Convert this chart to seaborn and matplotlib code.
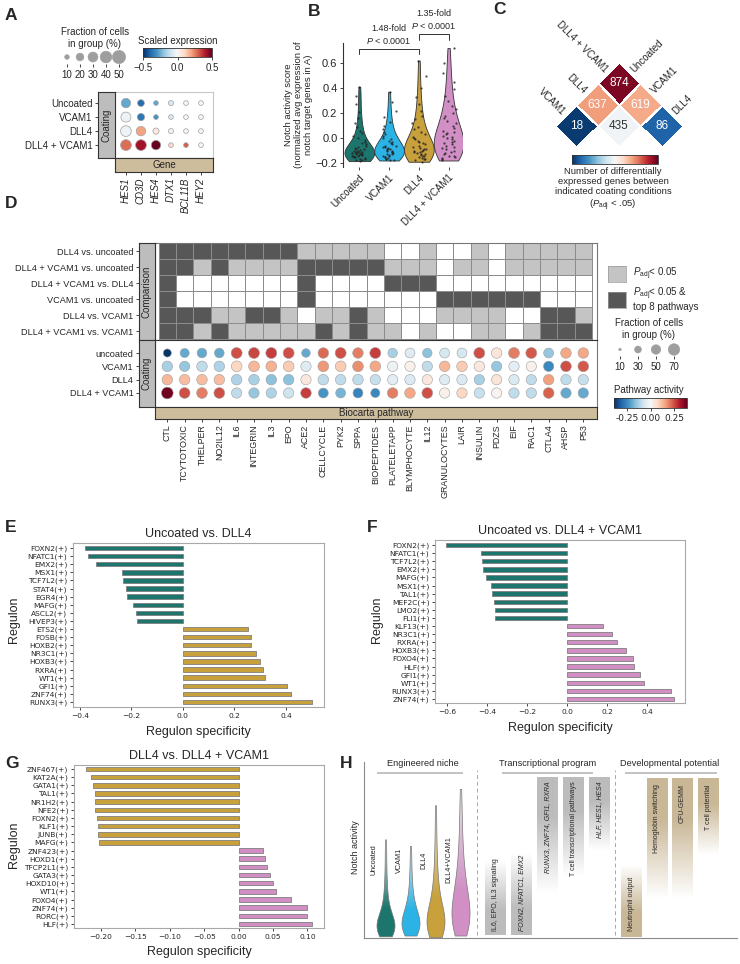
import numpy as np
import pandas as pd
import matplotlib
matplotlib.use('Agg')
import matplotlib.pyplot as plt
import seaborn as sns
from matplotlib.colors import ListedColormap, LinearSegmentedColormap, Normalize
from matplotlib.cm import ScalarMappable
from matplotlib.transforms import Affine2D

# ---------------- data ----------------
conditions = ['Uncoated', 'VCAM1', 'DLL4', 'DLL4 + VCAM1']
cond_colors = ['#1d766e', '#2cb3e6', '#c8a13c', '#d18fc5']

# A: notch target genes
genes_a = ['HES1', 'CD3D', 'HES4', 'DTX1', 'BCL11B', 'HEY2']
frac_a = [[27, 16, 10, 11, 5, 5],
          [30, 18, 7, 8, 5, 5],
          [34, 27, 14, 11, 5, 5],
          [34, 34, 27, 10, 6, 5]]
expr_a = [[-0.26, -0.38, -0.26, -0.08, 0.0, 0.0],
          [-0.03, -0.36, -0.30, -0.08, 0.0, 0.0],
          [-0.03, 0.20, 0.05, -0.02, 0.0, 0.0],
          [0.28, 0.42, 0.50, 0.10, 0.30, 0.0]]
size_legend_a = [10, 20, 30, 40, 50]

# B: notch activity score per cell
notch_uncoated = [-0.185, -0.18, -0.175, -0.17, -0.165, -0.16, -0.155, -0.15, -0.148, -0.145,
                  -0.14, -0.138, -0.135, -0.13, -0.128, -0.125, -0.122, -0.12, -0.118, -0.115,
                  -0.112, -0.11, -0.105, -0.1, -0.095, -0.09, -0.085, -0.08, -0.07, -0.06,
                  -0.05, -0.04, -0.03, -0.015, 0.0, 0.02, 0.04, 0.06, 0.09, 0.12,
                  0.16, 0.21, 0.27, 0.34, 0.41]
notch_vcam1 = [-0.18, -0.175, -0.17, -0.165, -0.16, -0.155, -0.15, -0.145, -0.14, -0.135,
               -0.13, -0.125, -0.12, -0.115, -0.11, -0.105, -0.1, -0.095, -0.09, -0.085,
               -0.08, -0.075, -0.07, -0.065, -0.06, -0.05, -0.04, -0.03, -0.02, -0.01,
               0.0, 0.015, 0.03, 0.05, 0.07, 0.1, 0.13, 0.17, 0.22, 0.29, 0.37]
notch_dll4 = [-0.19, -0.18, -0.17, -0.165, -0.16, -0.15, -0.145, -0.14, -0.135, -0.13,
              -0.125, -0.12, -0.115, -0.11, -0.105, -0.1, -0.095, -0.09, -0.085, -0.08,
              -0.07, -0.06, -0.05, -0.04, -0.03, -0.02, -0.01, 0.0, 0.01, 0.03,
              0.05, 0.07, 0.09, 0.12, 0.15, 0.18, 0.22, 0.27, 0.33, 0.4, 0.5, 0.62]
notch_dll4_vcam1 = [-0.18, -0.17, -0.16, -0.15, -0.145, -0.14, -0.13, -0.12, -0.11, -0.1,
                    -0.09, -0.08, -0.07, -0.06, -0.05, -0.04, -0.03, -0.02, -0.01, 0.0,
                    0.01, 0.02, 0.03, 0.04, 0.05, 0.06, 0.08, 0.1, 0.12, 0.14,
                    0.16, 0.18, 0.2, 0.23, 0.26, 0.3, 0.34, 0.39, 0.45, 0.52, 0.6, 0.72]

# C: number of differentially expressed genes
deg_rows = ['VCAM1', 'DLL4', 'DLL4 + VCAM1']
deg_cols = ['Uncoated', 'VCAM1', 'DLL4']
deg_counts = [[18, None, None],
              [637, 435, None],
              [874, 619, 86]]

# D: Biocarta pathways
comparisons = ['DLL4 vs. uncoated', 'DLL4 + VCAM1 vs. uncoated', 'DLL4 + VCAM1 vs. DLL4',
               'VCAM1 vs. uncoated', 'DLL4 vs. VCAM1', 'DLL4 + VCAM1 vs. VCAM1']
pathways = ['CTL', 'TCYTOTOXIC', 'THELPER', 'NO2IL12', 'IL6', 'INTEGRIN', 'IL3', 'EPO', 'ACE2',
            'CELLCYCLE', 'PYK2', 'SPPA', 'BIOPEPTIDES', 'PLATELETAPP', 'BLYMPHOCYTE', 'IL12',
            'GRANULOCYTES', 'LAIR', 'INSULIN', 'PDZS', 'EIF', 'RAC1', 'CTLA4', 'AHSP', 'P53']
# 0 = n.s., 1 = Padj < 0.05, 2 = Padj < 0.05 & top 8
sig_matrix = [
    [2, 2, 2, 2, 2, 2, 2, 2, 1, 1, 1, 1, 1, 0, 0, 1, 0, 0, 1, 0, 1, 1, 1, 1, 1],
    [2, 2, 1, 2, 1, 1, 1, 1, 2, 2, 2, 2, 2, 1, 1, 1, 0, 1, 1, 0, 1, 1, 1, 1, 1],
    [2, 0, 0, 0, 0, 0, 0, 0, 2, 0, 0, 0, 0, 2, 2, 2, 0, 0, 0, 0, 0, 0, 0, 0, 0],
    [2, 0, 0, 0, 0, 0, 0, 0, 2, 0, 0, 0, 0, 0, 0, 0, 2, 2, 2, 2, 2, 2, 0, 0, 0],
    [2, 2, 2, 1, 1, 2, 2, 1, 0, 1, 1, 2, 1, 0, 0, 0, 1, 1, 1, 1, 0, 0, 2, 2, 1],
    [2, 2, 1, 2, 1, 1, 1, 1, 1, 2, 1, 2, 1, 1, 0, 1, 0, 0, 1, 1, 0, 1, 2, 2, 2],
]
coating_d = ['uncoated', 'VCAM1', 'DLL4', 'DLL4 + VCAM1']
activity_d = [
    [-0.38, -0.20, -0.20, -0.20, 0.25, 0.26, 0.27, 0.25, -0.20, 0.22, 0.25, 0.20, 0.27,
     -0.13, -0.05, -0.16, -0.07, -0.07, 0.25, 0.05, 0.20, 0.24, -0.15, 0.15, 0.15],
    [-0.13, -0.15, -0.10, -0.12, 0.08, 0.13, 0.14, 0.10, -0.05, 0.17, 0.10, 0.18, 0.15,
     -0.02, 0.02, -0.10, 0.13, 0.10, 0.04, -0.15, -0.04, 0.02, -0.25, 0.25, 0.24],
    [0.13, 0.12, 0.12, 0.12, -0.12, -0.13, -0.16, -0.16, 0.04, -0.10, -0.10, -0.10, -0.09,
     -0.04, -0.06, 0.04, -0.05, -0.06, -0.13, 0.05, -0.06, -0.10, 0.16, -0.10, -0.09],
    [0.38, 0.25, 0.20, 0.25, -0.10, -0.15, -0.12, -0.08, 0.27, -0.23, -0.18, -0.26, -0.25,
     0.20, 0.15, 0.25, 0.02, 0.08, -0.09, 0.01, -0.10, -0.10, 0.23, -0.20, -0.20],
]
frac_d = [
    [37, 45, 50, 50, 62, 62, 62, 62, 41, 58, 62, 58, 62, 48, 52, 48, 52, 52, 62, 58, 62, 62, 52, 58, 58],
    [58, 55, 58, 58, 60, 60, 60, 60, 56, 60, 60, 60, 60, 56, 56, 56, 58, 58, 58, 56, 56, 56, 56, 60, 60],
    [58, 58, 58, 58, 58, 58, 58, 58, 56, 58, 58, 58, 56, 56, 56, 56, 56, 56, 56, 56, 56, 56, 58, 56, 56],
    [72, 60, 60, 60, 56, 56, 56, 56, 58, 52, 52, 52, 45, 58, 58, 60, 56, 56, 56, 56, 56, 56, 60, 56, 56],
]
size_legend_d = [10, 30, 50, 70]

# E, F, G: regulon specificity
reg_e = ['FOXN2(+)', 'NFATC1(+)', 'EMX2(+)', 'MSX1(+)', 'TCF7L2(+)', 'STAT4(+)', 'EGR4(+)',
         'MAFG(+)', 'ASCL2(+)', 'HIVEP3(+)', 'ETS2(+)', 'FOSB(+)', 'HOXB2(+)', 'NR3C1(+)',
         'HOXB3(+)', 'RXRA(+)', 'WT1(+)', 'GFI1(+)', 'ZNF74(+)', 'RUNX3(+)']
spec_e = [-0.382, -0.369, -0.337, -0.236, -0.233, -0.220, -0.216, -0.193, -0.181, -0.179,
          0.252, 0.265, 0.265, 0.285, 0.299, 0.312, 0.318, 0.404, 0.421, 0.502]
reg_f = ['FOXN2(+)', 'NFATC1(+)', 'TCF7L2(+)', 'EMX2(+)', 'MAFG(+)', 'MSX1(+)', 'TAL1(+)',
         'MEF2C(+)', 'LMO2(+)', 'FLI1(+)', 'KLF13(+)', 'NR3C1(+)', 'RXRA(+)', 'HOXB3(+)',
         'FOXO4(+)', 'HLF(+)', 'GFI1(+)', 'WT1(+)', 'RUNX3(+)', 'ZNF74(+)']
spec_f = [-0.607, -0.432, -0.425, -0.422, -0.408, -0.382, -0.375, -0.368, -0.362, -0.360,
          0.177, 0.225, 0.247, 0.292, 0.327, 0.332, 0.365, 0.382, 0.517, 0.532]
reg_g = ['ZNF467(+)', 'KAT2A(+)', 'GATA1(+)', 'TAL1(+)', 'NR1H2(+)', 'NFE2(+)', 'FOXN2(+)',
         'KLF1(+)', 'JUNB(+)', 'MAFG(+)', 'ZNF423(+)', 'HOXD1(+)', 'TFCP2L1(+)', 'GATA3(+)',
         'HOXD10(+)', 'WT1(+)', 'FOXO4(+)', 'ZNF74(+)', 'RORC(+)', 'HLF(+)']
spec_g = [-0.222, -0.214, -0.211, -0.209, -0.208, -0.208, -0.206, -0.204, -0.204, -0.202,
          0.035, 0.039, 0.041, 0.045, 0.050, 0.054, 0.076, 0.099, 0.099, 0.107]

# H: schematic
niche_labels = ['Uncoated', 'VCAM1', 'DLL4', 'DLL4+VCAM1']
program_text = ['IL6, EPO, IL3 signaling', 'FOXN2, NFATC1, EMX2', 'RUNX3, ZNF74, GFI1, RXRA',
                'T cell transcriptional pathways', 'HLF, HES1, HES4']
program_italic = [False, True, True, False, True]
potential_text = ['Neutrophil output', 'Hemoglobin switching', 'CFU-GEMM', 'T cell potential']

# ---------------- style ----------------
sns.set_theme(style='ticks')
plt.rcParams['font.family'] = ['Liberation Sans', 'DejaVu Sans']
plt.rcParams.update({
    'mathtext.fontset': 'custom',
    'mathtext.rm': 'Liberation Sans',
    'mathtext.it': 'Liberation Sans:italic',
    'axes.linewidth': 0.8,
    'xtick.major.size': 2.5, 'ytick.major.size': 2.5,
    'xtick.major.width': 0.6, 'ytick.major.width': 0.6,
    'xtick.major.pad': 1.5, 'ytick.major.pad': 1.5,
    'axes.edgecolor': '#333333',
})

W, H = 740, 964
fig = plt.figure(figsize=(W / 100, H / 100), dpi=100)


def add_ax(x0, y0, x1, y1):
    return fig.add_axes([x0 / W, 1 - y1 / H, (x1 - x0) / W, (y1 - y0) / H])


def ftext(x, y, s, **kw):
    fig.text(x / W, 1 - y / H, s, **kw)


def bare(ax):
    ax.set_xticks([])
    ax.set_yticks([])
    ax.set_xlabel('')
    ax.set_ylabel('')


GRAY_BAR = '#bdbdbd'
TAN_BAR = '#cdbd9d'

for letter, x, y in [('A', 5, 16), ('B', 308, 12), ('C', 493, 10), ('D', 5, 204),
                     ('E', 5, 528), ('F', 367, 528), ('G', 5, 763), ('H', 340, 763)]:
    ftext(x, y, letter, fontsize=12.5, fontweight='bold', va='center')

# ---------------- A ----------------
dfA = pd.DataFrame([(g, c, frac_a[c][g], expr_a[c][g]) for c in range(4) for g in range(6)],
                   columns=['gx', 'cy', 'frac', 'expr'])
axA = add_ax(115, 92, 213, 158)
sns.scatterplot(data=dfA, x='gx', y='cy', hue='expr', size='frac', palette='RdBu_r',
                hue_norm=(-0.5, 0.5), sizes=(11.5, 92), size_norm=(10, 50),
                edgecolor='#a0a0a0', linewidth=0.5, legend=False, ax=axA)
axA.set_xlim(-0.73, 5.8)
axA.set_ylim(3.92, -0.79)
bare(axA)
for s in ['top', 'right']:
    axA.spines[s].set_color('#c8c8c8')
axA.spines['left'].set_visible(False)

axAc = add_ax(98, 92, 115, 158)
axAc.set_facecolor(GRAY_BAR)
axAc.set_xticks([])
axAc.set_ylim(3.92, -0.79)
axAc.set_yticks(range(4))
axAc.set_yticklabels(conditions, fontsize=7)
axAc.text(0.5, 0.5, 'Coating', rotation=90, ha='center', va='center', fontsize=7,
          transform=axAc.transAxes)

axAg = add_ax(115, 158, 213, 172)
axAg.set_facecolor(TAN_BAR)
axAg.set_yticks([])
axAg.set_xlim(-0.73, 5.8)
axAg.set_xticks(range(6))
axAg.set_xticklabels(genes_a, rotation=90, fontsize=7, style='italic')
axAg.text(0.5, 0.5, 'Gene', ha='center', va='center', fontsize=7, transform=axAg.transAxes)

axAs = add_ax(55, 50, 131, 64)
sns.scatterplot(x=list(range(5)), y=[0] * 5, size=size_legend_a, sizes=(11.5, 92),
                size_norm=(10, 50), color='#9e9e9e', edgecolor='#9e9e9e', legend=False, ax=axAs)
axAs.set_xlim(-0.923, 4.923)
axAs.set_ylim(-1, 1)
axAs.set_yticks([])
axAs.set_xticks(range(5))
axAs.set_xticklabels([str(v) for v in size_legend_a], fontsize=7)
axAs.tick_params(axis='x', length=2, pad=2)
for s in axAs.spines.values():
    s.set_visible(False)
ftext(95, 38, 'Fraction of cells\nin group (%)', ha='center', va='center', fontsize=7, linespacing=1.3)

caxA = add_ax(143, 48, 212, 57)
cbA = fig.colorbar(ScalarMappable(norm=Normalize(-0.5, 0.5), cmap='RdBu_r'), cax=caxA,
                   orientation='horizontal', ticks=[-0.5, 0, 0.5])
cbA.ax.tick_params(labelsize=7, length=2.5, width=0.6)
cbA.outline.set_linewidth(0.6)
ftext(178, 41, 'Scaled expression', ha='center', va='center', fontsize=7)

# ---------------- B ----------------
notch_sets = [notch_uncoated, notch_vcam1, notch_dll4, notch_dll4_vcam1]
dfB = pd.DataFrame({'cond': np.repeat(conditions, [len(v) for v in notch_sets]),
                    'score': np.concatenate(notch_sets)})
axB = add_ax(343, 43, 462, 167)
sns.violinplot(data=dfB, x='cond', y='score', hue='cond', order=conditions, hue_order=conditions,
               palette=cond_colors, cut=0, inner=None, density_norm='width', width=1.0,
               saturation=1, linewidth=0.6, linecolor='#333333', legend=False, ax=axB)
np.random.seed(3)
sns.stripplot(data=dfB, x='cond', y='score', order=conditions, color='#222222', size=1.6,
              jitter=0.25, alpha=0.8, ax=axB)
axB.set_xlim(-0.55, 3.45)
axB.set_ylim(-0.232, 0.76)
axB.set_yticks([-0.2, 0.0, 0.2, 0.4, 0.6])
axB.tick_params(axis='y', labelsize=8)
axB.set_xticks(range(4))
axB.set_xticklabels(conditions, rotation=45, ha='right', rotation_mode='anchor', fontsize=7)
axB.set_xlabel('')
axB.set_ylabel('Notch activity score\n(normalized avg expression of\nnotch target genes in A)',
               fontsize=6.8, labelpad=2, linespacing=1.15)
for s in ['top', 'right', 'bottom']:
    axB.spines[s].set_visible(False)
axB.plot([0, 0, 2, 2], [0.672, 0.712, 0.712, 0.672], color='#333333', lw=0.7, clip_on=False)
axB.plot([2, 2, 3, 3], [0.784, 0.832, 0.832, 0.784], color='#333333', lw=0.7, clip_on=False)
axB.text(1, 0.74, '1.48-fold\n$P$ < 0.0001', ha='center', va='bottom', fontsize=6.5, linespacing=1.3)
axB.text(2.5, 0.86, '1.35-fold\n$P$ < 0.0001', ha='center', va='bottom', fontsize=6.5, linespacing=1.3)

# ---------------- C ----------------
r2 = np.sqrt(2)
axC = add_ax(555, 62, 683, 147)
axC.set_xlim(0, 3 * r2)
axC.set_ylim(-r2 / 2, 1.5 * r2)
axC.axis('off')
degM = np.ma.masked_invalid(np.array(deg_counts, dtype=float))
rot = Affine2D().rotate_deg(-45)
axC.pcolormesh(degM, cmap='RdBu_r', vmin=0, vmax=900, edgecolors='white', linewidth=0.8,
               transform=rot + axC.transData)
for a in range(3):
    for b in range(3):
        v = deg_counts[a][b]
        if v is None:
            continue
        px, py = rot.transform((b + 0.5, a + 0.5))
        axC.text(px, py, str(v), ha='center', va='center', fontsize=8.5,
                 color='#333333' if 250 < v < 560 else 'white')
for a in range(3):
    mx, my = rot.transform((0, a + 0.5))
    axC.text(mx - 0.07, my + 0.07, deg_rows[a], rotation=-45, rotation_mode='anchor',
             ha='right', va='center', fontsize=7)
for b in range(3):
    mx, my = rot.transform((b + 0.5, 3))
    axC.text(mx + 0.07, my + 0.07, deg_cols[b], rotation=45, rotation_mode='anchor',
             ha='left', va='center', fontsize=7)
caxC = add_ax(572, 155, 658, 164)
cbC = fig.colorbar(ScalarMappable(norm=Normalize(0, 900), cmap='RdBu_r'), cax=caxC,
                   orientation='horizontal')
cbC.set_ticks([])
cbC.outline.set_linewidth(0.6)
ftext(613, 172, 'Number of differentially', ha='center', va='center', fontsize=6.8)
ftext(613, 182, 'expressed genes between', ha='center', va='center', fontsize=6.8)
ftext(613, 192, 'indicated coating conditions', ha='center', va='center', fontsize=6.8)
ftext(613, 205, r'($P_\mathrm{adj}$ < .05)', ha='center', va='center', fontsize=6.8)

# ---------------- D ----------------
xl_d = (-0.21, 25.29)
axDm = add_ax(155, 243, 597, 340)
sns.heatmap(np.array(sig_matrix), cmap=ListedColormap(['#ffffff', '#c4c4c4', '#575757']),
            vmin=-0.5, vmax=2.5, cbar=False, linewidths=0.5, linecolor='#8c8c8c',
            xticklabels=False, yticklabels=False, ax=axDm)
axDm.set_xlim(*xl_d)
axDm.set_ylim(6.06, -0.02)
for s in axDm.spines.values():
    s.set_visible(True)
    s.set_color('#777777')

axDc = add_ax(139, 243, 155, 340)
axDc.set_facecolor(GRAY_BAR)
axDc.set_xticks([])
axDc.set_ylim(6.06, -0.02)
axDc.set_yticks(np.arange(6) + 0.5)
axDc.set_yticklabels(comparisons, fontsize=6.6)
axDc.text(0.5, 0.5, 'Comparison', rotation=90, ha='center', va='center', fontsize=7,
          transform=axDc.transAxes)

dfD = pd.DataFrame([(p + 0.5, r, activity_d[r][p], frac_d[r][p])
                    for r in range(4) for p in range(len(pathways))],
                   columns=['px', 'ry', 'act', 'frac'])
axDd = add_ax(155, 340, 597, 407)
sns.scatterplot(data=dfD, x='px', y='ry', hue='act', size='frac', palette='RdBu_r',
                hue_norm=(-0.39, 0.39), sizes=(3.8, 71), size_norm=(10, 70),
                edgecolor='#a0a0a0', linewidth=0.4, legend=False, ax=axDd)
axDd.set_xlim(*xl_d)
axDd.set_ylim(4.05, -0.975)
bare(axDd)
for s in axDd.spines.values():
    s.set_color('#777777')
axDd.spines['top'].set_color('#333333')

axDcc = add_ax(139, 340, 155, 407)
axDcc.set_facecolor(GRAY_BAR)
axDcc.set_xticks([])
axDcc.set_ylim(4.05, -0.975)
axDcc.set_yticks(range(4))
axDcc.set_yticklabels(coating_d, fontsize=6.6)
axDcc.text(0.5, 0.5, 'Coating', rotation=90, ha='center', va='center', fontsize=7,
           transform=axDcc.transAxes)

axDb = add_ax(155, 407, 597, 419)
axDb.set_facecolor(TAN_BAR)
axDb.set_yticks([])
axDb.set_xlim(*xl_d)
axDb.set_xticks(np.arange(len(pathways)) + 0.5)
axDb.set_xticklabels(pathways, rotation=90, fontsize=6.4)
axDb.text(0.5, 0.5, 'Biocarta pathway', ha='center', va='center', fontsize=7,
          transform=axDb.transAxes)

for y0, col in [(266, '#c4c4c4'), (292, '#575757')]:
    sq = add_ax(608, y0, 626, y0 + 16)
    sq.set_facecolor(col)
    bare(sq)
    for s in sq.spines.values():
        s.set_color('#999999')
        s.set_linewidth(0.5)
ftext(633, 274, r'$P_\mathrm{adj}$< 0.05', va='center', fontsize=7)
ftext(633, 299, '$P_\\mathrm{adj}$< 0.05 &\ntop 8 pathways', va='center', fontsize=7, linespacing=1.05)

axDs = add_ax(610, 343, 684, 356)
sns.scatterplot(x=list(range(4)), y=[0] * 4, size=size_legend_d, sizes=(3.8, 71),
                size_norm=(10, 70), color='#9e9e9e', edgecolor='#9e9e9e', legend=False, ax=axDs)
axDs.set_xlim(-10 / 18, 64 / 18)
axDs.set_ylim(-1, 1)
axDs.set_yticks([])
axDs.set_xticks(range(4))
axDs.set_xticklabels([str(v) for v in size_legend_d], fontsize=7)
axDs.tick_params(axis='x', length=2, pad=2)
for s in axDs.spines.values():
    s.set_visible(False)
ftext(649, 329, 'Fraction of cells\nin group (%)', ha='center', va='center', fontsize=7, linespacing=1.3)

caxD = add_ax(614, 398, 687, 408)
cbD = fig.colorbar(ScalarMappable(norm=Normalize(-0.39, 0.39), cmap='RdBu_r'), cax=caxD,
                   orientation='horizontal', ticks=[-0.25, 0, 0.25], format='%.2f')
cbD.ax.tick_params(labelsize=6.5, length=2.5, width=0.6)
for t in cbD.ax.get_xticklabels():
    t.set_fontfamily('DejaVu Sans')
cbD.outline.set_linewidth(0.6)
ftext(649, 390, 'Pathway activity', ha='center', va='center', fontsize=7)


# ---------------- E / F / G ----------------
def regulon_panel(box, names, vals, neg_color, pos_color, title, xlim, xticks, ylim):
    ax = add_ax(*box)
    df = pd.DataFrame({'regulon': names, 'spec': vals})
    df['side'] = np.where(df['spec'] < 0, 'neg', 'pos')
    sns.barplot(data=df, x='spec', y='regulon', hue='side',
                palette={'neg': neg_color, 'pos': pos_color}, dodge=False, width=0.55,
                saturation=1, edgecolor='#7f7f7f', linewidth=0.6, errorbar=None,
                legend=False, ax=ax)
    ax.set_xlim(*xlim)
    ax.set_ylim(*ylim)
    ax.set_xticks(xticks)
    ax.tick_params(labelsize=5.4)
    for t in ax.get_xticklabels() + ax.get_yticklabels():
        t.set_fontfamily('DejaVu Sans')
    ax.set_ylabel('')
    ax.set_xlabel('Regulon specificity', fontsize=9, labelpad=5)
    ax.set_title(title, fontsize=9, pad=4)
    for s in ax.spines.values():
        s.set_color('#a8a8a8')
    return ax


regulon_panel((73, 543, 324, 707), reg_e, spec_e, cond_colors[0], cond_colors[2],
              'Uncoated vs. DLL4', (-0.427, 0.548), [-0.4, -0.2, 0.0, 0.2, 0.4], (19.62, -0.62))
regulon_panel((435, 540, 685, 703), reg_f, spec_f, cond_colors[0], cond_colors[3],
              'Uncoated vs. DLL4 + VCAM1', (-0.662, 0.588), [-0.6, -0.4, -0.2, 0.0, 0.2, 0.4],
              (19.5, -0.62))
regulon_panel((74, 765, 324, 928), reg_g, spec_g, cond_colors[2], cond_colors[3],
              'DLL4 vs. DLL4 + VCAM1', (-0.239, 0.124),
              [-0.20, -0.15, -0.10, -0.05, 0.0, 0.05, 0.10], (19.49, -0.49))
ftext(14, 620, 'Regulon', rotation=90, ha='center', va='center', fontsize=9)
ftext(377, 620, 'Regulon', rotation=90, ha='center', va='center', fontsize=9)
ftext(14, 845, 'Regulon', rotation=90, ha='center', va='center', fontsize=9)

# ---------------- H ----------------
axH = add_ax(364, 762, 737, 938)
axH.set_facecolor('none')
bare(axH)
for s in ['top', 'right']:
    axH.spines[s].set_visible(False)
for s in ['left', 'bottom']:
    axH.spines[s].set_color('#8a8a8a')
ftext(355, 847, 'Notch activity', rotation=90, ha='center', va='center', fontsize=6.5)

for text, cx, x0, x1 in [('Engineered niche', 59, 13, 99),
                         ('Transcriptional program', 184, 138, 229),
                         ('Developmental potential', 306, 261, 353)]:
    axH.text(cx, 175, text, ha='center', va='center', fontsize=6.6)
    axH.plot([x0, x1], [165, 165], color='#bdbdbd', lw=1.3, solid_capstyle='butt')
for xd in [113, 251]:
    axH.plot([xd, xd], [3, 168], ls=(0, (4, 3)), color='#a8a8a8', lw=0.7)


def fade_bar(ax, x, y0, y1, color, solid_top):
    cmap = LinearSegmentedColormap.from_list('fade', ['white', color])
    ramp = np.clip(np.linspace(-0.05, 1.5, 120), 0, 1)
    if not solid_top:
        ramp = ramp[::-1]
    ax.imshow(ramp.reshape(-1, 1), extent=[x, x + 21, y0, y1], origin='lower', aspect='auto',
              cmap=cmap, vmin=0, vmax=1, interpolation='bilinear', zorder=1)


prog_spans = [(3, 80), (3, 88), (41, 161), (58, 161), (85, 161)]
for i, (text, ital) in enumerate(zip(program_text, program_italic)):
    x = 121 + 26 * i
    y0, y1 = prog_spans[i]
    top = y0 > 20
    fade_bar(axH, x, y0, y1, '#bcbcbc', top)
    axH.text(x + 10.5, y1 - 4 if top else y0 + 4, text, rotation=90, ha='center',
             va='top' if top else 'bottom', fontsize=5, style='italic' if ital else 'normal',
             zorder=3)
pot_spans = [(1, 76), (35, 160), (35, 160), (81, 160)]
for i, text in enumerate(potential_text):
    x = 257 + 25.5 * i
    y0, y1 = pot_spans[i]
    top = y0 > 20
    fade_bar(axH, x, y0, y1, '#c9b796', top)
    axH.text(x + 10.5, y1 - 6 if top else y0 + 6, text, rotation=90, ha='center',
             va='top' if top else 'bottom', fontsize=5, zorder=3)
for i, lab in enumerate(niche_labels):
    axH.text(10 + 25 * i, 78, lab, rotation=90, ha='center', va='center', fontsize=5.2)
axH.set_xlim(0, 373)
axH.set_ylim(0, 176)

axHv = add_ax(364, 762, 477, 938)
axHv.set_facecolor('none')
sns.violinplot(data=dfB, x='cond', y='score', order=conditions, color='white', cut=0,
               inner=None, density_norm='width', width=0.72, linewidth=0.5,
               linecolor='#777777', ax=axHv)
for coll, col in zip(list(axHv.collections), cond_colors):
    path = coll.get_paths()[0]
    ext = path.get_extents()
    cmap = LinearSegmentedColormap.from_list('v', [(0, col), (0.3, col), (1, '#e2e2e2')])
    im = axHv.imshow(np.linspace(0, 1, 150).reshape(-1, 1), extent=[ext.x0, ext.x1, ext.y0, ext.y1],
                     origin='lower', aspect='auto', cmap=cmap, interpolation='bilinear', zorder=0.5)
    im.set_clip_path(path, transform=axHv.transData)
    coll.set_facecolor('none')
axHv.set_xlim(-0.88, 3.64)
axHv.set_ylim(-0.192, 0.888)
axHv.axis('off')

fig.savefig('out.png', dpi=100)
